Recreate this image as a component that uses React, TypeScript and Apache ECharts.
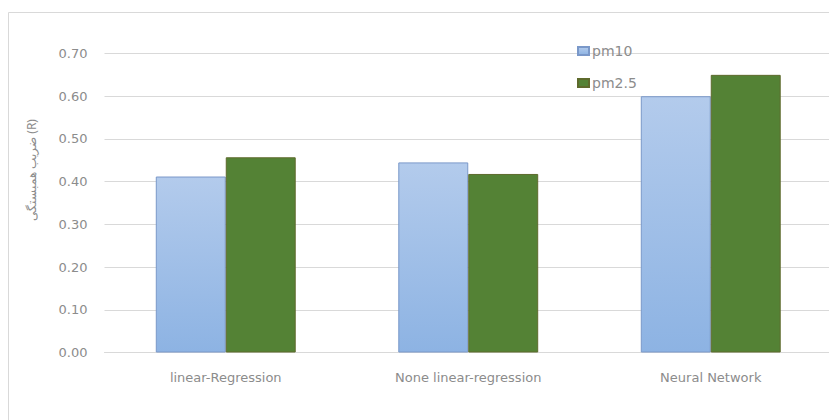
import React, { useEffect, useRef } from "react";
import * as echarts from "echarts";

const categories = ["linear-Regression", "None linear-regression", "Neural Network"];
const pm10Values = [0.412, 0.445, 0.6];
const pm25Values = [0.457, 0.418, 0.65];
const yTicks = [0, 0.1, 0.2, 0.3, 0.4, 0.5, 0.6, 0.7];
const seriesNames = ["pm10", "pm2.5"];
const yTitle = "ضریب همبستگی (R)";

export default function App() {
  const ref = useRef<HTMLDivElement>(null);

  useEffect(() => {
    if (!ref.current) return;
    const chart = echarts.init(ref.current, undefined, { renderer: "svg" });
    const font = "DejaVu Sans";
    chart.setOption({
      animation: false,
      backgroundColor: "#ffffff",
      textStyle: { fontFamily: font },
      graphic: [
        {
          type: "rect",
          shape: { x: 8.5, y: 12.5, width: 840, height: 420 },
          style: { fill: "none", stroke: "#d9d9d9", lineWidth: 1 },
          z: -1,
        },
        {
          type: "text",
          x: 31,
          y: 170,
          rotation: Math.PI / 2,
          style: {
            text: yTitle,
            fill: "#8c8c8c",
            font: `12px "Noto Sans", sans-serif`,
            align: "center",
            verticalAlign: "middle",
          },
        },
      ],
      legend: {
        orient: "vertical",
        left: 572,
        top: 39,
        itemWidth: 11,
        itemHeight: 8,
        itemGap: 18,
        icon: "rect",
        data: seriesNames,
        textStyle: { color: "#8c8c8c", fontSize: 14, fontFamily: font, padding: [0, 0, 0, -2] },
      },
      // the plot runs a little past the right edge of the visible frame
      grid: { left: 104.5, top: 53.5, right: 16, height: 299, containLabel: false },
      xAxis: {
        type: "category",
        data: categories,
        axisLine: { lineStyle: { color: "#d9d9d9" } },
        axisTick: { show: false },
        axisLabel: { color: "#8c8c8c", fontSize: 13, margin: 18, fontFamily: font },
      },
      yAxis: {
        type: "value",
        min: yTicks[0],
        max: yTicks[yTicks.length - 1],
        interval: 0.1,
        axisLine: { show: false },
        axisTick: { show: false },
        splitLine: { lineStyle: { color: "#d9d9d9" } },
        axisLabel: {
          color: "#8c8c8c",
          fontSize: 13,
          margin: 17,
          fontFamily: font,
          formatter: (v: number) => v.toFixed(2),
        },
      },
      series: [
        {
          name: seriesNames[0],
          type: "bar",
          data: pm10Values,
          barGap: "0%",
          barCategoryGap: "42.3%",
          itemStyle: {
            color: new echarts.graphic.LinearGradient(0, 0, 0, 1, [
              { offset: 0, color: "#b3cbec" },
              { offset: 1, color: "#8db3e3" },
            ]),
            borderColor: "#7a98c9",
            borderWidth: 1,
          },
        },
        {
          name: seriesNames[1],
          type: "bar",
          data: pm25Values,
          itemStyle: { color: "#548235", borderColor: "#5e6a2c", borderWidth: 1 },
        },
      ],
    });
    return () => chart.dispose();
  }, []);

  return (
    <div
      ref={ref}
      style={{ position: "fixed", left: 0, top: 0, width: 848, height: 420 }}
    />
  );
}
